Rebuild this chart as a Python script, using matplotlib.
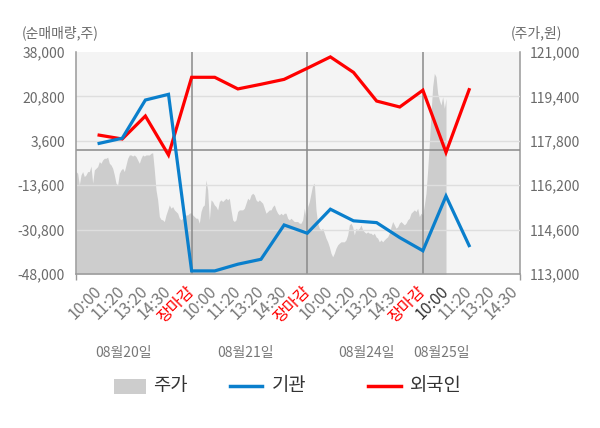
import numpy as np
import matplotlib
matplotlib.use('Agg')
import matplotlib.pyplot as plt
from matplotlib.patches import Rectangle
from matplotlib.lines import Line2D

plt.rcParams['font.family'] = ['Noto Sans CJK KR', 'DejaVu Sans']

# ---------------- data ----------------
x_labels = ['10:00', '11:20', '13:20', '14:30', '장마감',
            '10:00', '11:20', '13:20', '14:30', '장마감',
            '10:00', '11:20', '13:20', '14:30', '장마감',
            '10:00', '11:20', '13:20', '14:30']
date_labels = ['08월20일', '08월21일', '08월24일', '08월25일']

# net buying volume (shares), one point per time slot
foreign = [5800, 4300, 13200, -1900, 28200, 28200, 23700, 25500, 27400,
           31700, 36100, 30100, 19000, 16700, 23200, -900, 23400]
institution = [2600, 4600, 19400, 21600, -46800, -46800, -44200, -42300,
               -29000, -32200, -22900, -27400, -28100, -33900, -39000,
               -17800, -37000]

# intraday stock price (won)
price = [
    116690, 116630, 116210, 116570, 116690, 116510, 116570, 116690, 116690, 116890,
    116270, 116750, 116810, 116870, 117050, 116990, 117110, 117170, 117170, 117210,
    116990, 116930, 116810, 116570, 116270, 116210, 116630, 116750, 116810, 116690,
    116930, 117170, 117290, 117290, 117250, 117290, 117230, 117110, 116990, 117170,
    117290, 117250, 117290, 117290, 117290, 117350, 117370, 116750, 116030, 115670,
    115070, 114970, 114950, 114890, 115130, 115310, 115490, 115370, 115430, 115310,
    115250, 115190, 115010, 114950, 115010, 115070, 115130, 115130, 115190, 115210,
    115130, 115070, 115010, 115010, 114830, 115250, 115430, 115490,
    116390, 116030, 114950, 115670, 115610, 115490, 115430, 115310, 115610, 115670,
    115610, 115670, 115730, 115670, 115730, 115310, 114950, 114890, 114950, 115250,
    115310, 115310, 115310, 115370, 115550, 115730, 115670, 115850, 115910, 115850,
    115670, 115610, 115670, 115610, 115550, 115370, 115190, 115250, 115310, 115310,
    115430, 115490, 115310, 115190, 115130, 115190, 115130, 115190, 115190, 115010,
    114950, 115010, 114950, 114890, 114890, 114890, 114830, 114830, 114950, 115370,
    115010, 115430, 115610, 115910, 116210, 116270, 115310, 114830, 114650, 114590,
    114650,
    114470, 114290, 114160, 113980, 113750, 113620, 113750, 113930, 114050, 114110,
    114160, 114160, 114160, 114230, 114410, 114770, 114830, 114700, 114410, 114650,
    114590, 114650, 114770, 114590, 114520, 114470, 114520, 114470, 114470, 114410,
    114470, 114340, 114290, 114160, 114230, 114160, 114230, 114290, 114340, 114470,
    114700, 114890, 114770, 114650, 114700, 114830, 114890, 114830, 114770, 114830,
    114950, 115010, 115190, 115250, 115310, 115250, 115370, 115070, 115190, 115130,
    115490, 115910, 116750, 117710, 118790, 119750, 120230, 120110, 119510, 119270,
    119090, 119390, 118970, 119330,
]

left_ticks = [-48000, -30800, -13600, 3600, 20800, 38000]
right_ticks = [113000, 114600, 116200, 117800, 119400, 121000]

# ---------------- figure ----------------
W, H = 600, 428
fig = plt.figure(figsize=(W / 100, H / 100), dpi=100)
fig.patch.set_facecolor('white')
ax = fig.add_axes([76 / W, 1 - 274 / H, 444 / W, 222 / H])
ax2 = ax.twinx()

# price area behind everything
ax2.set_zorder(ax.get_zorder() - 1)
ax.patch.set_visible(False)
ax2.patch.set_visible(True)
ax2.patch.set_facecolor('#f4f4f4')

xp = np.linspace(0, 16.0, len(price))
ax2.fill_between(xp, right_ticks[0], price, color='#cdcdcd', linewidth=0)
ax2.set_ylim(right_ticks[0], right_ticks[-1])
ax2.set_yticks(right_ticks)
ax2.set_yticklabels([f'{v:,}' for v in right_ticks])

xs = np.arange(1, len(foreign) + 1)
ax.set_xlim(0, 19.2)
ax.set_ylim(left_ticks[0], left_ticks[-1])
ax.set_yticks(left_ticks)
ax.set_yticklabels([f'{v:,}' for v in left_ticks])

# grid lines
for v in left_ticks[1:-1]:
    ax.axhline(v, color='#dedede', lw=1, zorder=1)
ax.axhline(0, color='#8a8a8a', lw=1.1, zorder=2)
for d in (5, 10, 15):
    ax.axvline(d, color='#8a8a8a', lw=1.1, zorder=2)

ax.plot(xs, foreign, color='#ff0000', lw=2.3, zorder=4, solid_joinstyle='miter')
ax.plot(xs, institution, color='#0a7fcc', lw=2.3, zorder=5, solid_joinstyle='miter')

# spines
for s in ('top', 'right'):
    ax.spines[s].set_visible(False)
for s in ('top', 'left', 'bottom'):
    ax2.spines[s].set_visible(False)
for sp in (ax.spines['left'], ax.spines['bottom'], ax2.spines['right']):
    sp.set_color('#999999')
    sp.set_linewidth(1.1)

ax.tick_params(axis='y', length=0, pad=8, labelsize=10, labelcolor='#6a6a6a')
ax2.tick_params(axis='y', length=0, pad=7, labelsize=10, labelcolor='#6a6a6a')

ax.set_xticks(np.arange(1, len(x_labels) + 1))
ax.set_xticklabels(x_labels, rotation=45, ha='right', va='center',
                   rotation_mode='anchor')
ax.tick_params(axis='x', which='major', length=0, pad=11, labelsize=11.5,
               labelcolor='#777777')
for i, t in enumerate(ax.get_xticklabels()):
    if x_labels[i] == '장마감':
        t.set_color('#ff0000')
    elif i == 15:
        t.set_color('#333333')
ax.set_xticks([0, 5, 10, 15, 19.2], minor=True)
ax.tick_params(axis='x', which='minor', length=4, color='#999999', width=1)

# axis titles
fig.text(22 / W, 1 - 33 / H, '(순매매량,주)', ha='left', va='center',
         fontsize=10, color='#6a6a6a')
fig.text(562 / W, 1 - 33 / H, '(주가,원)', ha='right', va='center',
         fontsize=10, color='#6a6a6a')

# date labels
for px, lab in zip([124, 245, 366, 441], date_labels):
    fig.text(px / W, 1 - 353 / H, lab, ha='center', va='center',
             fontsize=10, color='#777777')

# legend
ly = 1 - 386 / H
fig.add_artist(Rectangle((114 / W, 1 - 393.5 / H), 31.5 / W, 15 / H,
                         transform=fig.transFigure, facecolor='#cdcdcd',
                         edgecolor='none'))
fig.text(153 / W, ly, '주가', ha='left', va='center', fontsize=13.5, color='#333333')
fig.add_artist(Line2D([230 / W, 262 / W], [ly, ly], transform=fig.transFigure,
                      color='#0a7fcc', lw=2.5))
fig.text(272 / W, ly, '기관', ha='left', va='center', fontsize=13.5, color='#333333')
fig.add_artist(Line2D([368 / W, 401 / W], [ly, ly], transform=fig.transFigure,
                      color='#ff0000', lw=2.5))
fig.text(410 / W, ly, '외국인', ha='left', va='center', fontsize=13.5, color='#333333')

fig.savefig('out.png', dpi=100)
